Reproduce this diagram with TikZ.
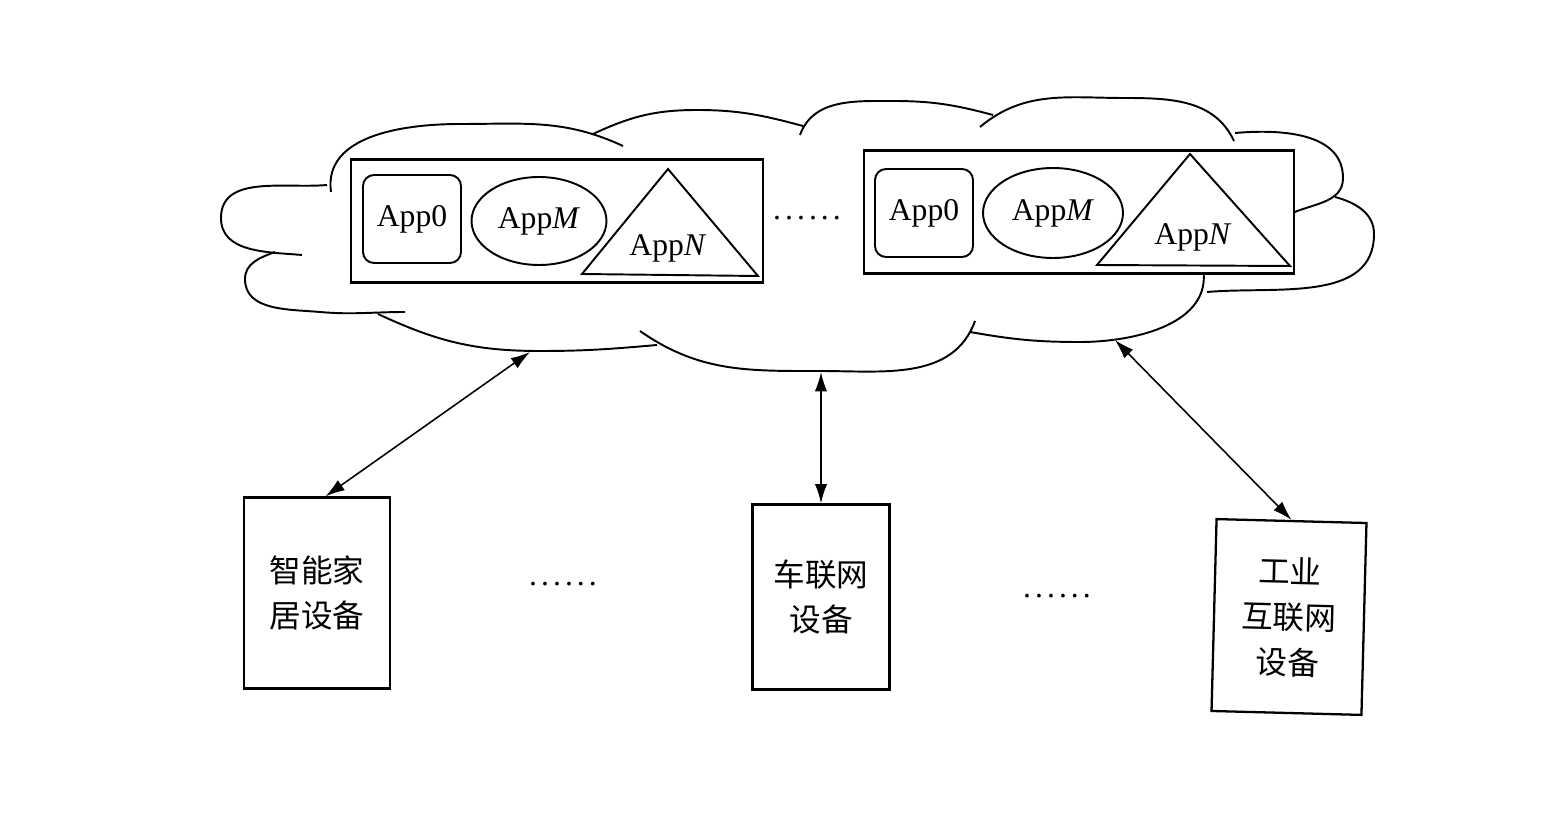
\documentclass[tikz,border=0pt]{standalone}
\usepackage{fontspec}
\setmainfont{Liberation Serif}
\newfontfamily\cjk{Noto Sans CJK SC}
\usetikzlibrary{arrows.meta,shapes.geometric}

\newcommand{\sixdots}{.\kern2.3pt.\kern2.3pt.\kern2.3pt.\kern2.3pt.\kern2.3pt.}

\begin{document}
\begin{tikzpicture}[
        x=0.02cm, y=-0.02cm,
        line width=1.1pt,
        every node/.style={font=\fontsize{18}{24}\selectfont},
        groupbox/.style={draw,fill=white,line width=1.3pt,minimum height=2.46cm},
        rbox/.style={draw,rounded corners=0.22cm,minimum width=1.96cm,minimum height=1.76cm},
        ebox/.style={draw,ellipse,minimum width=2.7cm,minimum height=1.76cm,inner sep=0pt},
        devbox/.style={draw,fill=white,line width=1.3pt,align=center,
                       font=\cjk\fontsize{18}{26}\selectfont},
        link/.style={{Latex[length=11pt,width=7pt]}-{Latex[length=11pt,width=7pt]},line width=0.9pt}
    ]

    \useasboundingbox (0,0) rectangle (1556,824);

    % cloud, lobe by lobe
    \draw (331,192) to[out=98,in=180] (460,124) to[out=0,in=155] (623,146);
    \draw (593,134) to[out=25,in=180] (697,110) to[out=0,in=165] (803,126);
    \draw (800,135) to[out=70,in=180] (893,101) to[out=0,in=165] (993,115);
    \draw (980,127) to[out=40,in=180] (1125,98) to[out=0,in=115] (1234,141);
    \draw (1235,133) to[out=5,in=90] (1343,178) to[out=-90,in=25] (1290,214);
    \draw (1335,197) to[out=-15,in=90] (1374,234) to[out=-90,in=5] (1207,292);
    \draw (1203,268) to[out=-80,in=0] (1080,342) to[out=180,in=-10] (970,332);
    \draw (975,321) to[out=-110,in=0] (820,371) to[out=180,in=-35] (640,331);
    \draw (657,345) to[out=185,in=0] (540,351) to[out=180,in=-25] (378,314);
    \draw (405,312) to[out=180,in=-5] (320,312) to[out=175,in=-90] (245,279) to[out=90,in=200] (275,252);
    \draw (327,185) to[out=185,in=90] (221,218) to[out=-90,in=175] (302,255);

    \coordinate (cl) at (530,352);
    \coordinate (cm) at (821,372);
    \coordinate (cr) at (1115,340);

    % apps on the left
    \node[groupbox,minimum width=8.24cm] (gl) at (557,221) {};
    \node[rbox] (a0l) at (412,219) {App0};
    \node[ebox] (aml) at (539,221) {App\textit{M}};
    \draw (668,169) -- (582,274) -- (758,276) -- cycle;
    \node (anl) at (668,248) {App\textit{N}};

    \node (dt) at (807,218) {\sixdots};

    % apps on the right
    \node[groupbox,minimum width=8.6cm] (gr) at (1079,212) {};
    \node[rbox] (a0r) at (924,213) {App0};
    \node[ebox,minimum width=2.8cm,minimum height=1.8cm] (amr) at (1053,213) {App\textit{M}};
    \draw (1190,154) -- (1097,265) -- (1290,266) -- cycle;
    \node (anr) at (1193,237) {App\textit{N}};

    % devices
    \node[devbox,minimum width=2.92cm,minimum height=3.82cm] (home) at (317,593) {智能家\\居设备};
    \node[devbox,minimum width=2.74cm,minimum height=3.7cm] (car) at (821,597) {车联网\\设备};
    \node[devbox,minimum width=3cm,minimum height=3.84cm,rotate=-1.5] (ind) at (1289,617) {工业\\互联网\\设备};

    \node (db1) at (563,584) {\sixdots};
    \node (db2) at (1057,596) {\sixdots};

    \draw[link] (cl) -- (home.85);
    \draw[link] (cm) -- (car.north);
    \draw[link] (cr) -- (ind.north);

\end{tikzpicture}
\end{document}
